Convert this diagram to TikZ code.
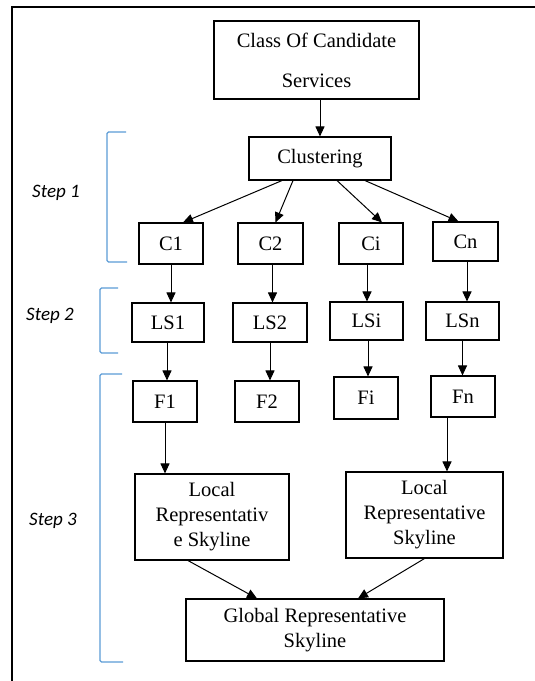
\documentclass[tikz,border=0pt]{standalone}
\usepackage{fontspec}
\setmainfont{Liberation Serif}
\newfontfamily\stepfont{Carlito}
\usetikzlibrary{arrows.meta}
\definecolor{brkblue}{RGB}{91,155,213}

\begin{document}
\begin{tikzpicture}[x=1pt,y=-1pt,
    box/.style={draw,line width=1.1pt,inner sep=0pt,align=center,
        font=\fontsize{20.5}{25}\selectfont},
    arr/.style={line width=1pt,-{Triangle[length=10pt,width=9pt]}},
    stepbrk/.style={brkblue,line width=1.1pt,rounded corners=1.5pt},
    steplbl/.style={font=\stepfont\itshape\fontsize{19}{22}\selectfont}]
        \useasboundingbox (0,0) rectangle (535,681);
        % frame
        \draw[line width=1.5pt] (535,7) -- (12,7) -- (12,681);
        % boxes
        \node[box,minimum width=205pt,minimum height=78pt] (class) at (316.5,60) {Class Of Candidate\\[15pt]Services};
        \node[box,minimum width=142pt,minimum height=43pt] (clust) at (320,158.5) {Clustering};
        \node[box,minimum width=64pt,minimum height=41pt] (c1) at (171,243.5) {C1};
        \node[box,minimum width=65pt,minimum height=41pt] (c2) at (270.5,243.5) {C2};
        \node[box,minimum width=64pt,minimum height=41pt] (ci) at (371,243.5) {Ci};
        \node[box,minimum width=65pt,minimum height=39pt] (cn) at (465.5,241.5) {Cn};
        \node[box,minimum width=72pt,minimum height=39pt] (ls1) at (168,322.5) {LS1};
        \node[box,minimum width=74pt,minimum height=39pt] (ls2) at (270,322.5) {LS2};
        \node[box,minimum width=73pt,minimum height=38pt] (lsi) at (366.5,321) {LSi};
        \node[box,minimum width=73pt,minimum height=38pt] (lsn) at (462.5,321) {LSn};
        \node[box,minimum width=64pt,minimum height=41pt] (f1) at (165,401.5) {F1};
        \node[box,minimum width=64pt,minimum height=41pt] (f2) at (267,401.5) {F2};
        \node[box,minimum width=64pt,minimum height=42pt] (fi) at (366,398) {Fi};
        \node[box,minimum width=64pt,minimum height=41pt] (fn) at (463,396.5) {Fn};
        \node[box,minimum width=154pt,minimum height=86pt] (loc1) at (212,517) {Local\\Representativ\\e Skyline};
        \node[box,minimum width=157pt,minimum height=86pt] (loc2) at (424.5,515) {Local\\Representative\\Skyline};
        \node[box,minimum width=258pt,minimum height=62pt] (glob) at (315,630) {Global Representative\\Skyline};
        % arrows
        \draw[arr] (class.south -| clust.north) -- (clust.north);
        \draw[arr] ([xshift=-38pt]clust.south) -- ([xshift=12pt]c1.north);
        \draw[arr] ([xshift=-27pt]clust.south) -- ([xshift=5pt]c2.north);
        \draw[arr] ([xshift=17pt]clust.south) -- ([xshift=11pt]ci.north);
        \draw[arr] ([xshift=45pt]clust.south) -- ([xshift=-7pt]cn.north);
        \draw[arr] (c1.south) -- (c1.south |- ls1.north);
        \draw[arr] ([xshift=2pt]c2.south) -- ([xshift=2pt]c2.south |- ls2.north);
        \draw[arr] ([xshift=-4pt]ci.south) -- ([xshift=-4pt]ci.south |- lsi.north);
        \draw[arr] ([xshift=1.5pt]cn.south) -- ([xshift=1.5pt]cn.south |- lsn.north);
        \draw[arr] ([xshift=-1pt]ls1.south) -- ([xshift=-1pt]ls1.south |- f1.north);
        \draw[arr] (ls2.south) -- (ls2.south |- f2.north);
        \draw[arr] ([xshift=1.5pt]lsi.south) -- ([xshift=1.5pt]lsi.south |- fi.north);
        \draw[arr] (lsn.south) -- (lsn.south |- fn.north);
        \draw[arr] (f1.south) -- (f1.south |- loc1.north);
        \draw[arr] ([xshift=-16pt]fn.south) -- ([xshift=-16pt]fn.south |- loc2.north);
        \draw[arr] ([xshift=-24pt]loc1.south) -- ([xshift=-58pt]glob.north);
        \draw[arr] (loc2.south) -- ([xshift=43pt]glob.north);
        % step brackets
        \draw[stepbrk] (126,132) -- (107,132) -- (107,262) -- (127,262);
        \draw[stepbrk] (118,288) -- (100,288) -- (100,353) -- (118,353);
        \draw[stepbrk] (122,374) -- (100,374) -- (100,662) -- (123,662);
        \node[steplbl] (s1) at (56,193) {Step 1};
        \node[steplbl] (s2) at (50,316) {Step 2};
        \node[steplbl] (s3) at (53,521) {Step 3};
    \end{tikzpicture}
\end{document}
